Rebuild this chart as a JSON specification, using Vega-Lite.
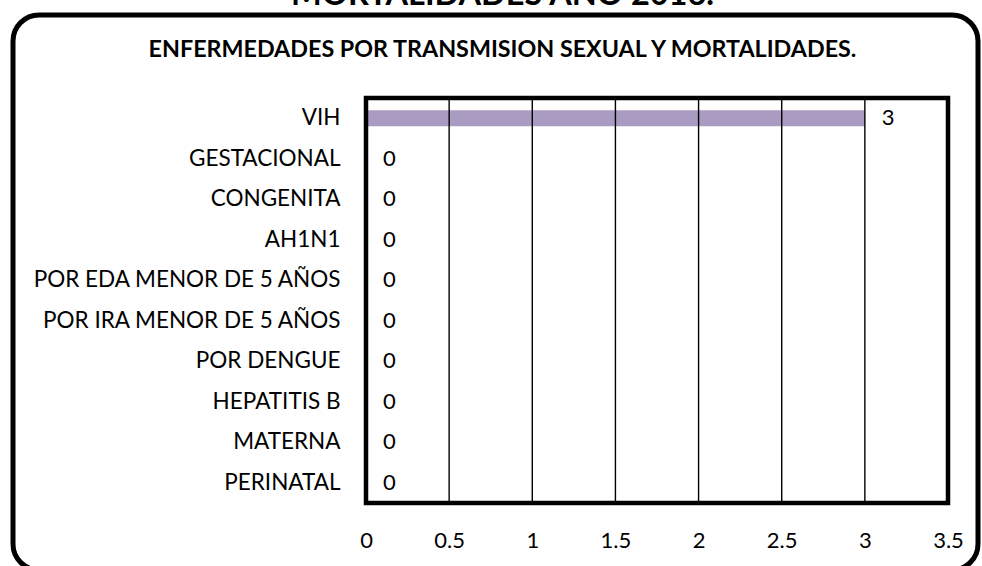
{
  "$schema": "https://vega.github.io/schema/vega-lite/v6.json",
  "width": 965,
  "height": 555,
  "autosize": {"type": "none"},
  "padding": {"left": 13, "top": 15, "right": 4, "bottom": 0},
  "background": "white",
  "config": {
    "view": {"stroke": "black", "strokeWidth": 5, "cornerRadius": 26},
    "font": "Lato"
  },
  "title": {
    "text": "MORTALIDADES AÑO 2016.",
    "subtitle": "ENFERMEDADES POR TRANSMISION SEXUAL Y MORTALIDADES.",
    "anchor": "middle",
    "orient": "top",
    "font": "Lato",
    "fontSize": 32.5,
    "fontWeight": "bold",
    "color": "black",
    "subtitleFont": "Lato",
    "subtitleFontSize": 23.3,
    "subtitleFontWeight": "bold",
    "subtitleColor": "black",
    "subtitlePadding": 27,
    "offset": -46,
    "dx": 7
  },
  "layer": [
    {
      "data": {
        "values": [
          {"cat": "VIH", "value": 3},
          {"cat": "GESTACIONAL", "value": 0},
          {"cat": "CONGENITA", "value": 0},
          {"cat": "AH1N1", "value": 0},
          {"cat": "POR EDA MENOR DE 5 AÑOS", "value": 0},
          {"cat": "POR IRA MENOR DE 5 AÑOS", "value": 0},
          {"cat": "POR DENGUE", "value": 0},
          {"cat": "HEPATITIS B", "value": 0},
          {"cat": "MATERNA", "value": 0},
          {"cat": "PERINATAL", "value": 0}
        ]
      },
      "encoding": {
        "y": {
          "field": "cat",
          "type": "nominal",
          "sort": null,
          "scale": {"range": [83, 488], "paddingInner": 0.6, "paddingOuter": 0.3},
          "axis": {
            "title": null,
            "domain": false,
            "ticks": false,
            "tickSize": 0,
            "labelPadding": 26,
            "labelFontSize": 22.5,
            "labelLimit": 0,
            "labelColor": "black",
            "labelFont": "Lato",
            "offset": -353
          }
        },
        "x": {
          "field": "value",
          "type": "quantitative",
          "scale": {"domain": [0, 3.5], "range": [353, 935], "nice": false},
          "axis": {
            "title": null,
            "values": [0, 0.5, 1, 1.5, 2, 2.5, 3, 3.5],
            "format": "~g",
            "domain": false,
            "ticks": false,
            "tickSize": 0,
            "grid": false,
            "labelFontSize": 22,
            "labelFont": "Lato",
            "labelColor": "black",
            "labelPadding": 27,
            "labelFlush": false,
            "offset": -67
          }
        }
      },
      "layer": [
        {"mark": {"type": "bar", "color": "#A99BC1"}},
        {
          "mark": {"type": "text", "align": "left", "dx": 17, "fontSize": 22, "color": "black", "font": "Lato"},
          "encoding": {"text": {"field": "value", "type": "quantitative"}}
        }
      ]
    },
    {
      "encoding": {
        "y": {"datum": 0, "type": "quantitative", "scale": {"domain": [0, 1], "range": [488, 83]}, "axis": null},
        "y2": {"datum": 1}
      },
      "layer": [
        {
          "data": {"values": [{"g": 0.5}, {"g": 1}, {"g": 1.5}, {"g": 2}, {"g": 2.5}, {"g": 3}]},
          "mark": {"type": "rule", "color": "black", "strokeWidth": 1.4},
          "encoding": {"x": {"field": "g", "type": "quantitative"}}
        },
        {
          "data": {"values": [{"x0": 0, "x1": 3.5}]},
          "mark": {"type": "rect", "fill": null, "stroke": "black", "strokeWidth": 4.5},
          "encoding": {
            "x": {"field": "x0", "type": "quantitative"},
            "x2": {"field": "x1"}
          }
        }
      ]
    }
  ],
  "resolve": {"scale": {"y": "independent"}, "axis": {"y": "independent"}}
}
